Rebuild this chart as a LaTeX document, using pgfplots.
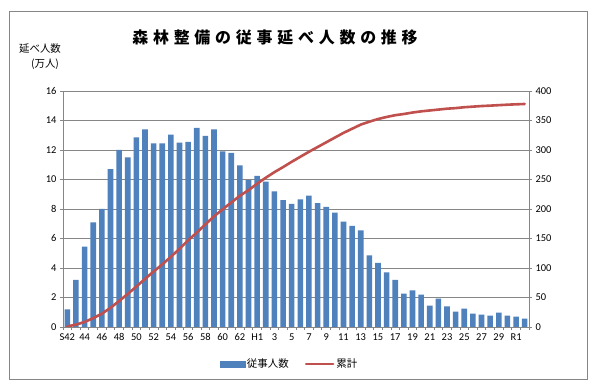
\documentclass[border=0pt]{standalone}
\usepackage{pgfplots}
\pgfplotsset{compat=1.18}
\usepackage{fontspec}
\setmainfont{Carlito}
\newfontfamily\cjk{Noto Sans CJK JP}
\newfontfamily\cjktitle[LetterSpace=30]{Noto Sans CJK JP}
\definecolor{barblue}{HTML}{4F81BD}
\definecolor{linered}{HTML}{C0504D}
\definecolor{gridgray}{HTML}{868686}
\begin{document}
\begin{tikzpicture}
\useasboundingbox (0bp,0bp) rectangle (599bp,390bp);
\fill[white] (0bp,0bp) rectangle (599bp,390bp);
\draw[gridgray, line width=0.8bp] (9.5bp,11bp) rectangle (587.5bp,378.5bp);
\node[font=\cjktitle\bfseries\fontsize{16}{18}\selectfont] at (275bp,353bp) {森林整備の従事延べ人数の推移};
\node[font=\cjk\fontsize{10.5}{12}\selectfont] at (40bp,341bp) {延べ人数};
\node[font=\cjk\fontsize{10.5}{12}\selectfont] at (45bp,326bp) {(万人)};
\begin{axis}[
  at={(63bp,63bp)}, anchor=south west,
  scale only axis, width=466bp, height=236bp,
  xmin=-0.5, xmax=53.5, ymin=0, ymax=16,
  ytick={0,2,...,16},
  xtick={0,2,...,52},
  xticklabels={S42,44,46,48,50,52,54,56,58,60,62,H1,3,5,7,9,11,13,15,17,19,21,23,25,27,29,R1},
  minor xtick={-0.5,0.5,...,53.5},
  axis x line*=bottom, axis y line*=left,
  axis line style={gridgray, line width=0.8bp},
  ymajorgrids, grid style={gridgray, line width=0.8bp},
  tick align=outside,
  major tick length=3bp, minor tick length=3bp,
  major x tick style={draw=none},
  minor x tick style={gridgray, line width=0.8bp},
  y tick style={gridgray, line width=0.8bp},
  tick label style={font=\fontsize{10.5}{12}\selectfont},
  /pgf/number format/assume math mode=true,
  ybar, bar width=5.6bp,
]
\addplot[fill=barblue, draw=none] coordinates {
(0,1.2) (1,3.2) (2,5.45) (3,7.1) (4,8.0) (5,10.7) (6,12.0) (7,11.5) (8,12.85) (9,13.4)
(10,12.45) (11,12.45) (12,13.05) (13,12.5) (14,12.55) (15,13.5) (16,12.95) (17,13.4) (18,11.9) (19,11.8)
(20,10.95) (21,9.95) (22,10.25) (23,9.85) (24,9.2) (25,8.6) (26,8.35) (27,8.65) (28,8.9) (29,8.4)
(30,8.15) (31,7.75) (32,7.15) (33,6.85) (34,6.55) (35,4.85) (36,4.35) (37,3.7) (38,3.2) (39,2.27)
(40,2.48) (41,2.2) (42,1.45) (43,1.93) (44,1.39) (45,1.05) (46,1.25) (47,0.91) (48,0.84) (49,0.77)
(50,0.98) (51,0.77) (52,0.70) (53,0.57)
};
\end{axis}
\begin{axis}[
  at={(63bp,63bp)}, anchor=south west,
  scale only axis, width=466bp, height=236bp,
  xmin=-0.5, xmax=53.5, ymin=0, ymax=400,
  ytick={0,50,...,400},
  axis x line=none, axis y line*=right,
  axis line style={gridgray, line width=0.8bp},
  tick align=outside, major tick length=3bp,
  y tick style={gridgray, line width=0.8bp},
  tick label style={font=\fontsize{10.5}{12}\selectfont},
  /pgf/number format/assume math mode=true,
  legend columns=2,
  legend style={at={(0.486,-0.157)}, anchor=center, draw=none, fill=none,
    font=\cjk\fontsize{10.5}{12}\selectfont,
    /tikz/every even column/.append style={column sep=14bp}},
  legend cell align=left,
]
\addlegendimage{legend image code/.code={\fill[barblue] (0bp,-3bp) rectangle (25bp,3bp);}}
\addlegendentry{従事人数}
\addplot[linered, line width=2.6bp, line join=round, line cap=round,
  legend image code/.code={\draw[linered, line width=2.6bp] (0bp,0bp) -- (27bp,0bp);}] coordinates {
(0,1) (1,4) (2,8.5) (3,15) (4,22.5) (5,32.5) (6,44) (7,56) (8,68.5) (9,81.5)
(10,94) (11,106) (12,119) (13,132.5) (14,147) (15,160) (16,174) (17,187.5) (18,199.5) (19,211)
(20,222.5) (21,232) (22,243) (23,253) (24,262.5) (25,271) (26,280) (27,288.5) (28,297) (29,305)
(30,313) (31,321) (32,329) (33,336) (34,343) (35,348) (36,352.5) (37,356) (38,359) (39,361)
(40,363.5) (41,365.5) (42,367) (43,368.5) (44,370) (45,371) (46,372.5) (47,373.5) (48,374.5) (49,375.2)
(50,376) (51,376.8) (52,377.4) (53,378)
};
\addlegendentry{累計}
\end{axis}
\end{tikzpicture}
\end{document}
